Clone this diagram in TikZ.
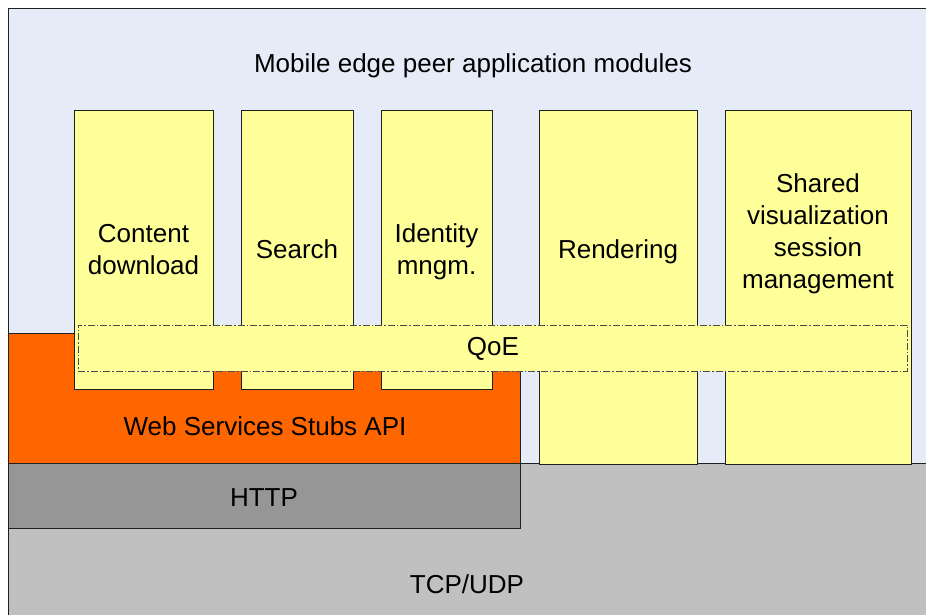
\documentclass[tikz,border=0pt]{standalone}
\usepackage{fontspec}
\setmainfont{Liberation Sans}
\definecolor{appbg}{HTML}{E6ECF7}
\definecolor{modfill}{HTML}{FFFF99}
\definecolor{wsfill}{HTML}{FF6600}
\definecolor{httpfill}{HTML}{969696}
\definecolor{tcpfill}{HTML}{C0C0C0}
\definecolor{edge}{HTML}{202020}
\begin{document}
\begin{tikzpicture}[x=1pt, y=-1pt,
  every node/.style={font=\fontsize{26}{32}\selectfont},
  layer/.style={draw=edge, line width=0.8pt},
  module/.style={draw=edge, line width=0.8pt, fill=modfill, inner sep=0pt, anchor=north west},
  lbl/.style={align=center, inner sep=0pt},
  qoebox/.style={draw=black!70, line width=0.7pt, fill=modfill,
    dash pattern=on 7pt off 2pt on 1.5pt off 2pt, inner sep=0pt, anchor=north west}]
\useasboundingbox (0,0) rectangle (926,615);
\clip (0,0) rectangle (926,615);

% application area
\path[layer, fill=appbg] (8.5,8) rectangle (940,630);
\node[lbl] (apptitle) at (473,66) {Mobile edge peer application modules};

% protocol stack
\path[layer, fill=tcpfill] (8.5,463.5) rectangle (940,630);
\node[lbl] (tcp) at (467,584) {TCP/UDP};
\path[layer, fill=httpfill] (8.5,463.5) rectangle (520.5,528.5);
\node[lbl] (http) at (264,498) {HTTP};
\path[layer, fill=wsfill] (8.5,333.5) rectangle (520.5,463.5);
\node[lbl] (ws) at (265,426) {Web Services Stubs API};

% application modules
\node[module, minimum width=139pt, minimum height=278pt] (content) at (74,110.5) {};
\node[module, minimum width=112pt, minimum height=278pt] (search) at (241,110.5) {};
\node[module, minimum width=111pt, minimum height=278pt] (identity) at (381,110.5) {};
\node[module, minimum width=158pt, minimum height=353pt] (render) at (539,110.5) {};
\node[module, minimum width=186pt, minimum height=353pt] (shared) at (725,110.5) {};

\node[lbl] (contentlbl) at (143.5,250) {Content\\download};
\node[lbl] (searchlbl) at (297,249) {Search};
\node[lbl] (identitylbl) at (436.5,252) {Identity\\mngm.};
\node[lbl] (renderlbl) at (618,252) {Rendering};
\node[lbl] (sharedlbl) at (818,234) {Shared\\visualization\\session\\management};

% quality of experience band
\node[qoebox, minimum width=829pt, minimum height=46pt] (qoe) at (78,324.5) {};
\node[lbl] (qoelbl) at (493,349) {QoE};
\end{tikzpicture}
\end{document}
